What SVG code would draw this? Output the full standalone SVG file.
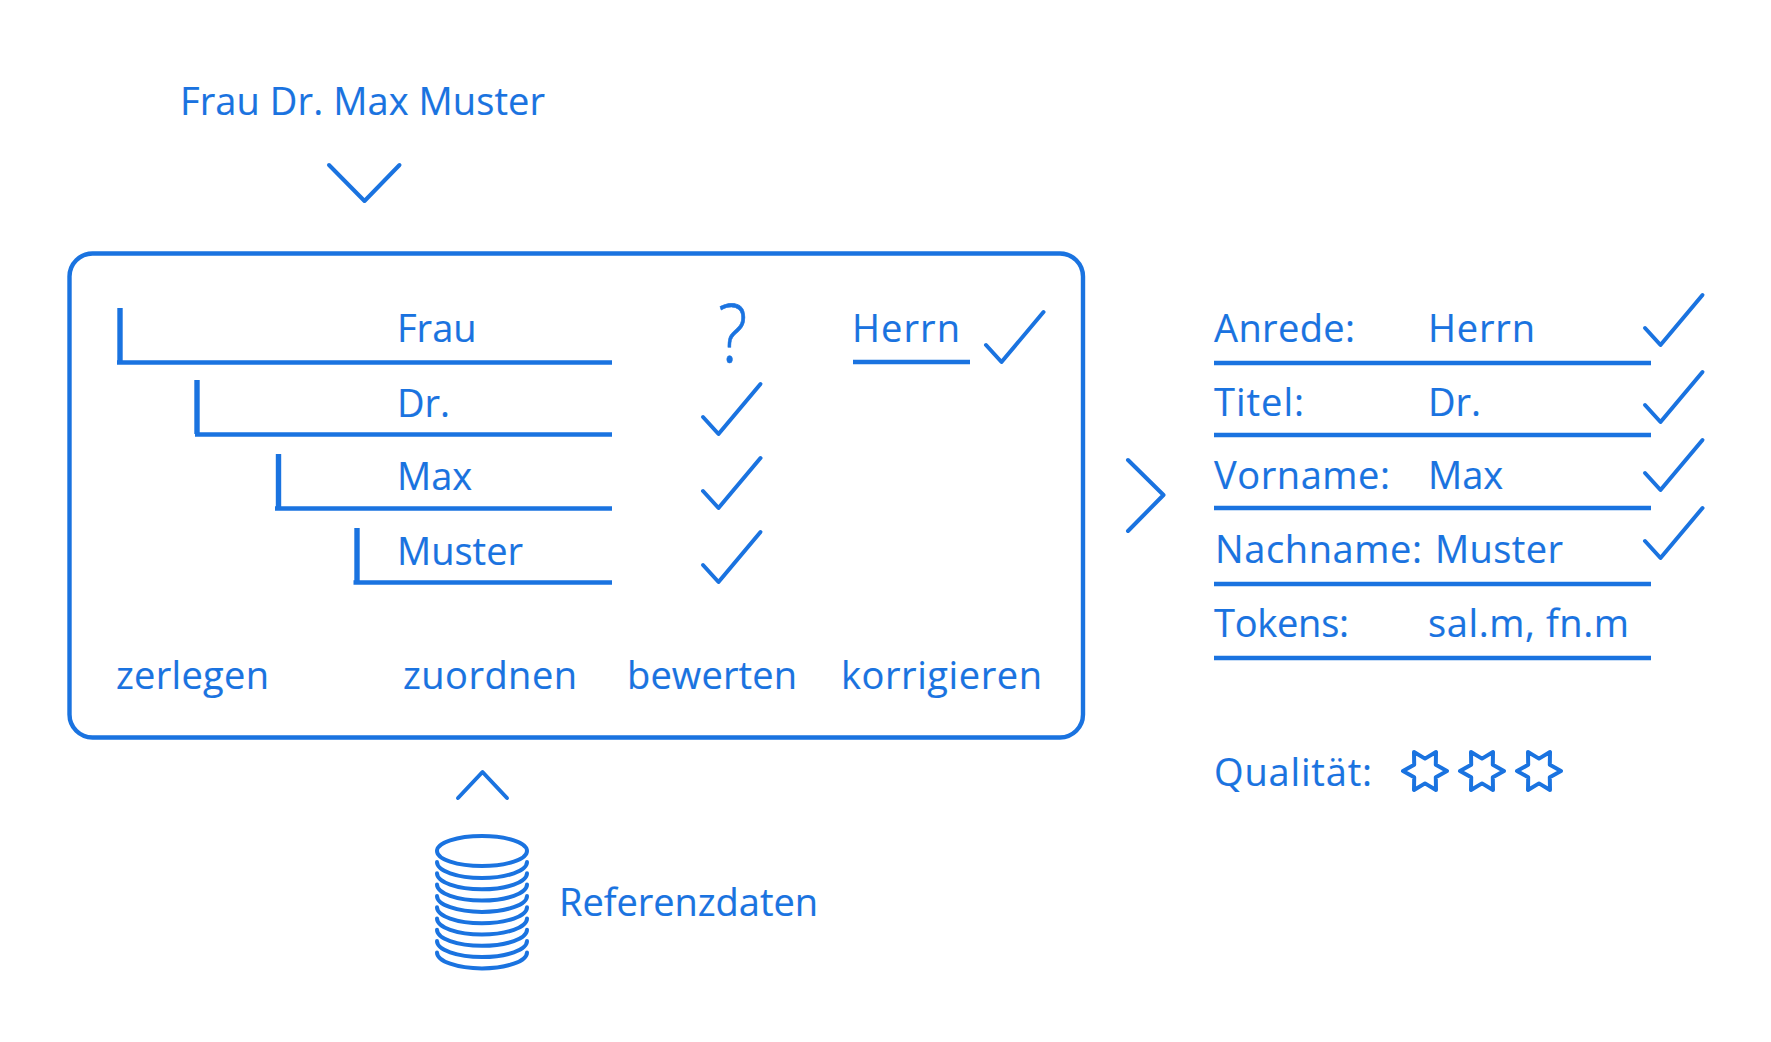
<svg xmlns="http://www.w3.org/2000/svg" width="1771" height="1042" viewBox="0 0 1771 1042">
<style>
text{font-family:"Open Sans","Noto Sans",sans-serif;font-size:38px;fill:#1a73e0;stroke:#1a73e0;stroke-width:.15}
.s{fill:none;stroke:#1a73e0;stroke-width:4;stroke-linecap:round;stroke-linejoin:round}
.l{fill:none;stroke:#1a73e0;stroke-width:4.600;stroke-linecap:butt}
.v{fill:none;stroke:#1a73e0;stroke-width:5.400;stroke-linecap:butt}
</style>
<defs>
<path id="chk" class="s" d="M0 16 L15.500 33 L57.500 -17"/>
<path id="star" class="s" d="M22 0 L10.800 6.200 L11 19 L0 12.400 L-11 19 L-10.800 6.200 L-22 0 L-10.800 -6.200 L-11 -19 L0 -12.400 L11 -19 L10.800 -6.200 Z"/>
<path id="arc" class="s" d="M437 862 a45 16 0 0 0 90 0"/>
</defs>
<rect width="1771" height="1042" fill="#fff"/>
<g id="input"><text x="180" y="115" textLength="365">Frau Dr. Max Muster</text></g>
<g id="connectors">
<path class="s" d="M329 165 L364.500 201 L399.500 165"/>
<path class="s" d="M1128 460 L1163.500 495 L1128 531"/>
<path class="s" d="M458 798 L482.500 772 L507 798"/>
</g>
<g id="process">
<rect x="69.500" y="253.500" width="1013.500" height="484" rx="23" fill="none" stroke="#1a73e0" stroke-width="4.400"/>
<g id="token-frau"><path class="v" d="M120 308 V362"/><path class="l" d="M117 362.500 H612"/><text x="397" y="342">Frau</text><text x="718" y="362" transform="translate(718 0) scale(.85 1) translate(-718 0)" style="font-size:82px;font-weight:300;stroke-width:.6">?</text></g>
<g id="token-dr"><path class="v" d="M197 380 V434"/><path class="l" d="M195 434.500 H612"/><text x="397" y="417">Dr.</text><use href="#chk" x="703" y="401"/></g>
<g id="token-max"><path class="v" d="M278.500 454 V508"/><path class="l" d="M275 508.500 H612"/><text x="397" y="490">Max</text><use href="#chk" x="703" y="475"/></g>
<g id="token-muster"><path class="v" d="M357 528 V582"/><path class="l" d="M353.500 582.500 H612"/><text x="397" y="565">Muster</text><use href="#chk" x="703" y="549"/></g>
<g id="correction"><text x="852" y="342" textLength="108">Herrn</text><path class="l" d="M853 362 H970"/><use href="#chk" x="986" y="329"/></g>
<g id="steps">
<text x="116" y="689" textLength="153">zerlegen</text>
<text x="403" y="689" textLength="174">zuordnen</text>
<text x="627" y="689" textLength="170">bewerten</text>
<text x="841" y="689" textLength="201">korrigieren</text>
</g>
</g>
<g id="reference">
<ellipse class="s" cx="482" cy="851" rx="45" ry="15"/>
<use href="#arc"/><use href="#arc" y="11.300"/><use href="#arc" y="22.600"/><use href="#arc" y="33.900"/><use href="#arc" y="45.200"/><use href="#arc" y="56.500"/><use href="#arc" y="67.800"/><use href="#arc" y="79.100"/><use href="#arc" y="90.400"/>
<text x="559" y="916" textLength="259">Referenzdaten</text>
</g>
<g id="result">
<g id="row-anrede"><text x="1214" y="342" textLength="141">Anrede:</text><text x="1428" y="342" textLength="107">Herrn</text><path class="l" d="M1214 363 H1651"/><use href="#chk" x="1645" y="312"/></g>
<g id="row-titel"><text x="1214" y="416" textLength="90">Titel:</text><text x="1428" y="416">Dr.</text><path class="l" d="M1214 435 H1651"/><use href="#chk" x="1645" y="389"/></g>
<g id="row-vorname"><text x="1214" y="489" textLength="176">Vorname:</text><text x="1428" y="489">Max</text><path class="l" d="M1214 508 H1651"/><use href="#chk" x="1645" y="457"/></g>
<g id="row-nachname"><text x="1215" y="563" textLength="207">Nachname:</text><text x="1435" y="563" textLength="128">Muster</text><path class="l" d="M1214 584 H1651"/><use href="#chk" x="1645" y="525"/></g>
<g id="row-tokens"><text x="1214" y="637" textLength="135">Tokens:</text><text x="1428" y="637" textLength="201">sal.m, fn.m</text><path class="l" d="M1214 658 H1651"/></g>
<g id="quality"><text x="1214" y="786" textLength="158">Qualität:</text>
<use href="#star" x="1425" y="771"/><use href="#star" x="1482" y="771"/><use href="#star" x="1539" y="771"/></g>
</g>
</svg>
